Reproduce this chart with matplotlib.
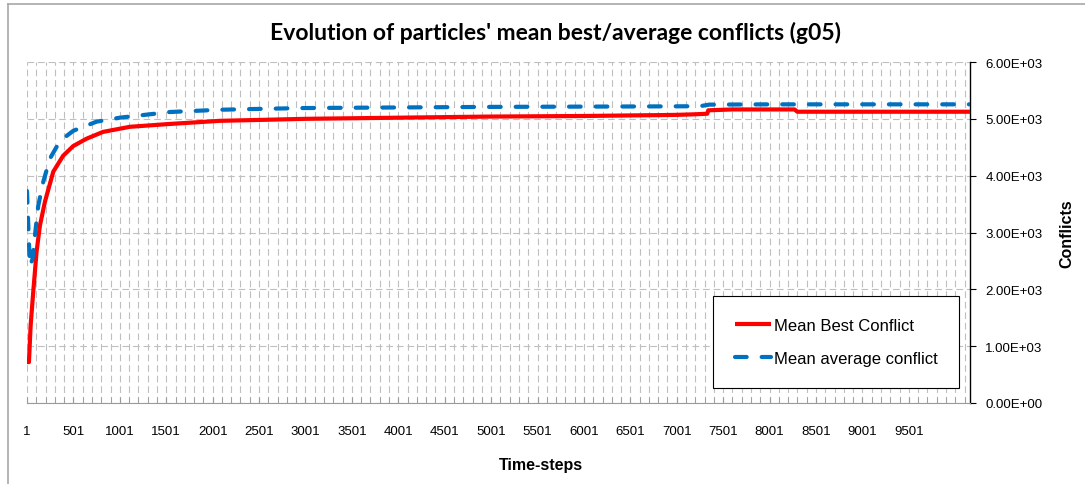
import matplotlib
matplotlib.use('Agg')
import matplotlib.pyplot as plt
import numpy as np
from matplotlib.lines import Line2D
from matplotlib.ticker import FixedLocator, FuncFormatter

# values
best_steps = [1, 22, 40, 68, 104, 140, 194, 284, 390, 498, 642, 820, 1110, 1540,
              2080, 2620, 3000, 3500, 4000, 4500, 5000, 5500, 6000, 6500, 6800,
              7000, 7200, 7330, 7340, 7600, 8270, 8300, 10160]
best_vals = [720, 720, 1360, 1950, 2660, 3120, 3540, 4070, 4350, 4520, 4650, 4770,
             4860, 4910, 4965, 4985, 5000, 5010, 5020, 5030, 5040, 5045, 5050,
             5060, 5065, 5070, 5080, 5090, 5150, 5165, 5165, 5125, 5125]

avg_steps = [1, 15, 32, 60, 86, 122, 176, 248, 356, 500, 750, 1000, 1540, 2080,
             2510, 3000, 4000, 5000, 6000, 7000, 7250, 7350, 8000, 10160]
avg_vals = [3730, 3120, 2410, 2530, 2940, 3470, 3890, 4300, 4610, 4790, 4950, 5020,
            5120, 5160, 5175, 5190, 5200, 5210, 5215, 5220, 5222, 5250, 5255, 5255]

xtick_labels = [str(v) for v in range(1, 10000, 500)]
yticks = [0, 1000, 2000, 3000, 4000, 5000, 6000]

W, H = 1085, 485
fig = plt.figure(figsize=(W / 100, H / 100), dpi=100)
ax = fig.add_axes([27 / W, 1 - 404 / H, (970 - 27) / W, (404 - 63) / H])

grid_kw = dict(color='#bfbfbf', linestyle=(0, (6, 3.5)), linewidth=0.8)

ax.plot(best_steps, best_vals, color='#ff0000', lw=3, solid_capstyle='butt',
        label='Mean Best Conflict', zorder=3)
ax.plot(avg_steps, avg_vals, color='#0070c0', lw=3, linestyle=(0, (2.8, 3.6)),
        dash_capstyle='round', label='Mean average conflict', zorder=3)

ax.set_xlim(1, 10160)
ax.set_ylim(0, 6000)

ax.xaxis.set_major_locator(FixedLocator(list(range(1, 10000, 500))))
ax.set_xticklabels(xtick_labels)
ax.xaxis.set_minor_locator(FixedLocator(list(range(1, 10160, 100))))
ax.tick_params(axis='x', which='both', direction='in', length=4, color='#9a9a9a',
               pad=16)
ax.grid(True, axis='x', which='both', **grid_kw)
ax.grid(True, axis='y', which='major', **grid_kw)

ax.yaxis.tick_right()
ax.set_yticks(yticks)
ax.yaxis.set_major_formatter(FuncFormatter(lambda v, p: '%.2E' % v))
ax.tick_params(axis='y', direction='out', length=4, color='black', pad=7)
ax.yaxis.set_label_position('right')
ax.set_ylabel('Conflicts', fontsize=11.5, fontweight='bold', labelpad=12)

for s in ['top', 'left']:
    ax.spines[s].set_visible(False)
ax.spines['right'].set_color('black')
ax.spines['right'].set_linewidth(1.0)
ax.spines['bottom'].set_color('#9a9a9a')

for lab in ax.get_xticklabels() + ax.get_yticklabels():
    lab.set_family(['Liberation Sans Narrow', 'Liberation Sans'])
    lab.set_fontsize(9.5)
ax.yaxis.label.set_family('Liberation Sans')

leg = ax.legend(loc='lower right', bbox_to_anchor=(0.9885, 0.044), fancybox=False,
                framealpha=1, edgecolor='black', handlelength=2.2, labelspacing=1.1,
                borderpad=1.3, handletextpad=0.15, borderaxespad=0,
                prop={'family': ['Liberation Sans Narrow', 'Liberation Sans'], 'size': 12})
leg.get_frame().set_linewidth(0.8)

fig.text(556 / W, 1 - 33 / H, "Evolution of particles' mean best/average conflicts (g05)",
         ha='center', va='center', fontsize=16.5, fontweight='bold', family='Lato')
fig.text(541 / W, 1 - 466 / H, 'Time-steps', ha='center', va='center', fontsize=11.5,
         fontweight='bold', family='Liberation Sans')

# chart area border
fig.add_artist(Line2D([8 / W, 1], [1 - 5 / H, 1 - 5 / H], color='#a8a8a8', lw=1.2))
fig.add_artist(Line2D([8 / W, 8 / W], [0, 1 - 5 / H], color='#a8a8a8', lw=1.2))

fig.savefig('out.png', dpi=100)
